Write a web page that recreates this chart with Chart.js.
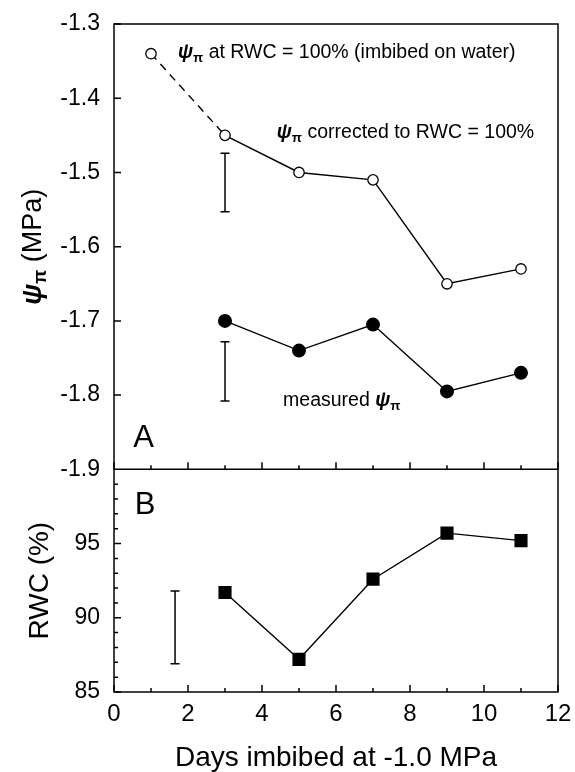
<!DOCTYPE html>
<html>
<head>
<meta charset="utf-8">
<script src="https://cdn.jsdelivr.net/npm/chart.js@4.4.1/dist/chart.umd.min.js"></script>
<style>
  html, body { margin: 0; padding: 0; background: #fff; }
  #wrap { width: 575px; height: 772px; }
</style>
</head>
<body>
<div id="wrap"><canvas id="chart" width="575" height="772"></canvas></div>
<script>
// x: days imbibed at -1.0 MPa
const DAYS_CORR = [1, 3, 5, 7, 9, 11];
const DAYS      = [3, 5, 7, 9, 11];

// panel A: psi_pi corrected to RWC = 100% (day 1 = imbibed on water), and measured psi_pi
const PSI_CORR = [-1.34, -1.45, -1.50, -1.51, -1.65, -1.63];
const PSI_MEAS = [-1.70, -1.74, -1.705, -1.795, -1.77];

// panel B: relative water content (%)
const RWC = [91.7, 87.2, 92.6, 95.7, 95.2];

// representative error bars: [day, low, high]
const ERR_CORR = [3, -1.553, -1.474];
const ERR_MEAS = [3, -1.808, -1.728];
const ERR_RWC  = [1.65, 86.9, 91.8];

// tick labels
const X_TICKS   = [0, 2, 4, 6, 8, 10, 12];
const PSI_TICKS = [-1.9, -1.8, -1.7, -1.6, -1.5, -1.4, -1.3];
const RWC_TICKS = [85, 90, 95];

const FONT = '"Liberation Sans", Arial, Helvetica, sans-serif';
const PSI = [{ t: 'ψ', style: 'italic bold' }, { t: 'π', style: 'bold', scale: 0.68, dy: 0.2 }];

const pts = (xs, ys) => xs.map((x, i) => ({ x, y: ys[i] }));
const errPts = e => [{ x: e[0], y: e[1] }, { x: e[0], y: e[2] }];

function drawRich(ctx, parts, x, y, size, measureOnly) {
  let cx = x;
  parts.forEach(p => {
    const part = typeof p === 'string' ? { t: p } : p;
    ctx.font = `${part.style || ''} ${(size * (part.scale || 1)).toFixed(1)}px ${FONT}`;
    if (!measureOnly) ctx.fillText(part.t, cx, y + (part.dy || 0) * size);
    cx += ctx.measureText(part.t).width;
  });
  return cx - x;
}

// fixed axis box sizes so the plot area sits where the original's frame is
const fixSize = (w, h) => s => {
  if (w) s.width = w;
  if (h) s.height = h;
  s.paddingTop = s.paddingBottom = s.paddingLeft = s.paddingRight = 0;
};

// text notes inside the panels, anchored in data units (left edge, baseline)
const NOTES = [
  { parts: [...PSI, ' at RWC = 100% (imbibed on water)'], x: 1.73, y: -1.3457, axis: 'yA', size: 19.5 },
  { parts: [...PSI, ' corrected to RWC = 100%'], x: 4.40, y: -1.4532, axis: 'yA', size: 19.5 },
  { parts: ['measured ', ...PSI], x: 4.57, y: -1.8148, axis: 'yA', size: 19.5 },
  { parts: ['A'], x: 0.52, y: -1.870, axis: 'yA', size: 31 },
  { parts: ['B'], x: 0.56, y: 96.96, axis: 'yB', size: 31 },
];

const decorations = {
  id: 'decorations',
  afterDatasetsDraw(chart) {
    const { ctx, chartArea: a, scales: { x, yA, yB } } = chart;
    ctx.save();
    ctx.strokeStyle = '#000';
    ctx.lineWidth = 1.5;
    ctx.strokeRect(a.left, a.top, a.right - a.left, a.bottom - a.top);
    ctx.beginPath();
    ctx.moveTo(a.left, yA.bottom);
    ctx.lineTo(a.right, yA.bottom);
    // x ticks point up into both panels
    for (let d = x.min; d <= x.max; d++) {
      const px = x.getPixelForValue(d);
      const len = d % 2 === 0 ? 7 : 4;
      [yA.bottom, yB.bottom].forEach(base => {
        ctx.moveTo(px, base);
        ctx.lineTo(px, base - len);
      });
    }
    PSI_TICKS.forEach(v => {
      const py = yA.getPixelForValue(v);
      ctx.moveTo(a.left, py);
      ctx.lineTo(a.left + 7, py);
    });
    for (let v = yB.min; v <= yB.max; v++) {
      const py = yB.getPixelForValue(v);
      ctx.moveTo(a.left, py);
      ctx.lineTo(a.left + (v % 5 === 0 ? 7 : 4), py);
    }
    ctx.stroke();

    ctx.fillStyle = '#000';
    ctx.textBaseline = 'alphabetic';
    NOTES.forEach(n => {
      const sc = chart.scales[n.axis];
      drawRich(ctx, n.parts, x.getPixelForValue(n.x), sc.getPixelForValue(n.y), n.size);
    });

    // y axis titles (rotated)
    const titles = [
      { parts: [...PSI, ' (MPa)'], axis: yA, base: 41, size: 27 },
      { parts: ['RWC (%)'], axis: yB, base: 48, size: 28 },
    ];
    titles.forEach(t => {
      const w = drawRich(ctx, t.parts, 0, 0, t.size, true);
      ctx.save();
      ctx.translate(t.base, (t.axis.top + t.axis.bottom) / 2);
      ctx.rotate(-Math.PI / 2);
      drawRich(ctx, t.parts, -w / 2, 0, t.size);
      ctx.restore();
    });
    ctx.restore();
  }
};

const lineStyle = {
  borderColor: '#000',
  borderWidth: 1.4,
  pointBorderColor: '#000',
  pointHoverRadius: 0,
};
const errStyle = {
  ...lineStyle,
  borderWidth: 1.5,
  pointStyle: 'line',
  pointRadius: 4.5,
  pointBorderWidth: 1.5,
};

new Chart(document.getElementById('chart'), {
  type: 'line',
  data: {
    datasets: [
      { ...lineStyle, label: 'corrected', yAxisID: 'yA', data: pts(DAYS_CORR, PSI_CORR),
        pointStyle: 'circle', pointRadius: 5.2, pointBorderWidth: 1.3, pointBackgroundColor: '#fff',
        segment: { borderDash: c => c.p0DataIndex === 0 ? [8, 6] : undefined } },
      { ...lineStyle, label: 'measured', yAxisID: 'yA', data: pts(DAYS, PSI_MEAS),
        pointStyle: 'circle', pointRadius: 6.3, pointBackgroundColor: '#000' },
      { ...lineStyle, label: 'RWC', yAxisID: 'yB', data: pts(DAYS, RWC),
        pointStyle: 'rect', pointRadius: 8.3, pointBackgroundColor: '#000' },
      { ...errStyle, label: 'err corrected', yAxisID: 'yA', data: errPts(ERR_CORR) },
      { ...errStyle, label: 'err measured', yAxisID: 'yA', data: errPts(ERR_MEAS) },
      { ...errStyle, label: 'err RWC', yAxisID: 'yB', data: errPts(ERR_RWC) },
    ]
  },
  options: {
    responsive: false,
    animation: false,
    events: [],
    layout: { autoPadding: false, padding: { top: 24, right: 17, left: 0, bottom: 0 } },
    plugins: { legend: { display: false }, tooltip: { enabled: false } },
    scales: {
      x: {
        type: 'linear', position: 'bottom', min: 0, max: 12,
        afterBuildTicks: s => { s.ticks = X_TICKS.map(v => ({ value: v })); },
        afterFit: fixSize(0, 80),
        grid: { display: false, drawTicks: false },
        border: { display: false },
        ticks: { color: '#000', padding: 8, font: { family: FONT, size: 24 } },
        title: { display: true, text: 'Days imbibed at -1.0 MPa', color: '#000',
                 padding: 0, font: { family: FONT, size: 28, lineHeight: 1 } }
      },
      yB: {
        type: 'linear', position: 'left', stack: 'panels', stackWeight: 1, min: 85, max: 100,
        afterBuildTicks: s => { s.ticks = RWC_TICKS.map(v => ({ value: v })); },
        afterFit: fixSize(114, 0),
        grid: { display: false, drawTicks: false },
        border: { display: false },
        ticks: { color: '#000', padding: 14, font: { family: FONT, size: 23 } }
      },
      yA: {
        type: 'linear', position: 'left', stack: 'panels', stackWeight: 2, min: -1.9, max: -1.3,
        afterBuildTicks: s => { s.ticks = PSI_TICKS.map(v => ({ value: v })); },
        afterFit: fixSize(114, 0),
        grid: { display: false, drawTicks: false },
        border: { display: false },
        ticks: { color: '#000', padding: 14, font: { family: FONT, size: 23 },
                 callback: v => v.toFixed(1) }
      }
    }
  },
  plugins: [decorations]
});
</script>
</body>
</html>
